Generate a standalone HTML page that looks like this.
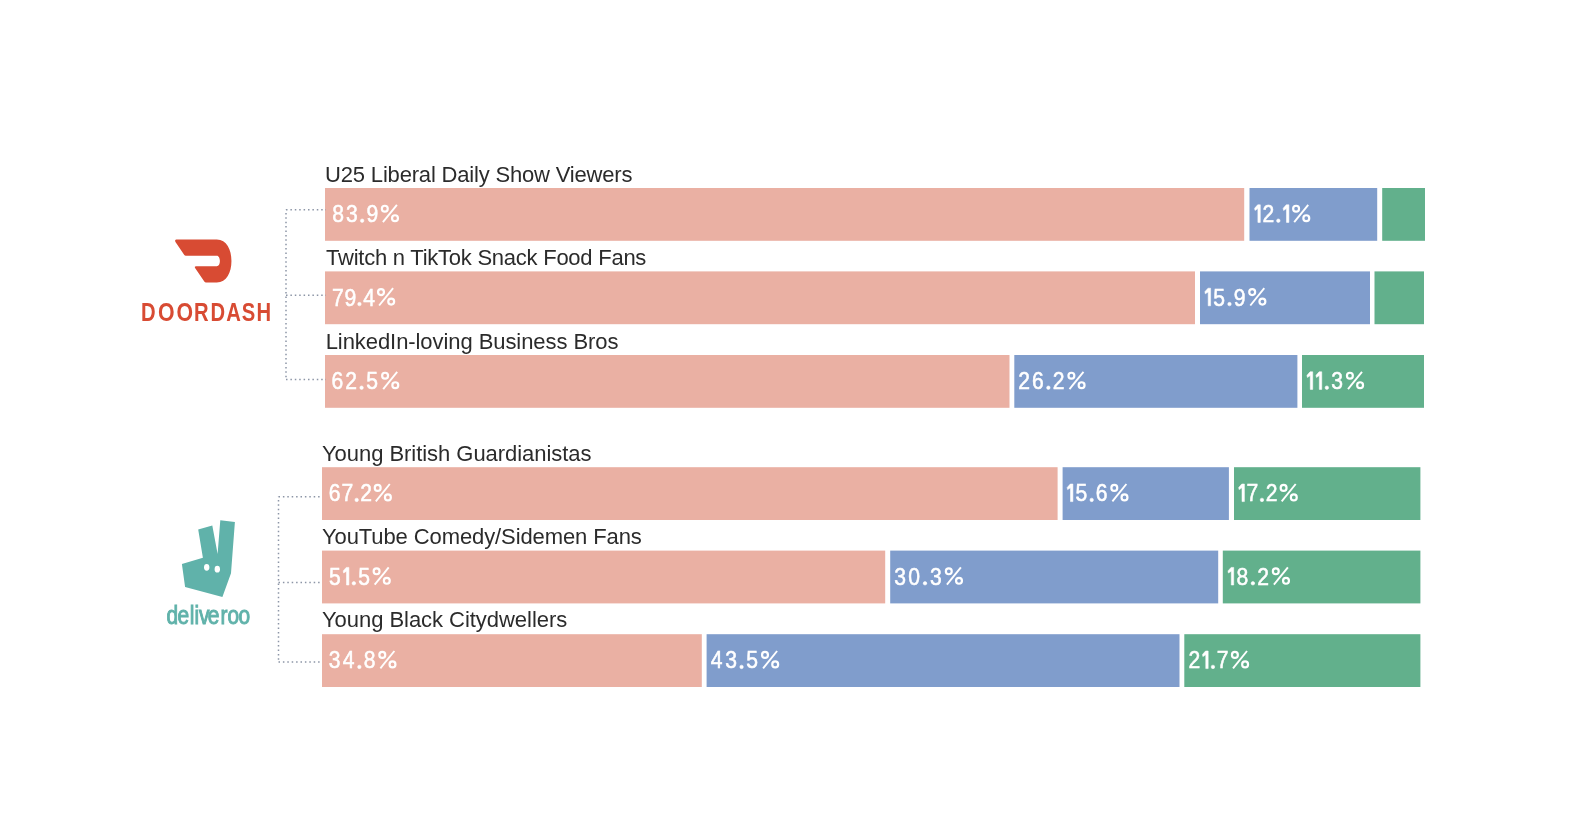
<!DOCTYPE html>
<html><head><meta charset="utf-8"><style>
html,body{margin:0;padding:0;background:#fff;width:1590px;height:826px;overflow:hidden}
svg{display:block;will-change:transform}
.lbl{font-family:"Liberation Sans",sans-serif;font-size:22px;fill:#2b2b2b}
.pct{font-family:"Liberation Sans",sans-serif;font-size:24px;fill:#fff;stroke:#fff;stroke-width:0.55px}
</style></head><body>
<svg width="1590" height="826" viewBox="0 0 1590 826">
<text class="lbl" x="325.10" y="182.2" letter-spacing="-0.181">U25 Liberal Daily Show Viewers</text>
<rect x="325" y="188.0" width="919.2" height="52.8" fill="#EAB0A3"/>
<rect x="1249.5" y="188.0" width="127.7" height="52.8" fill="#809DCC"/>
<rect x="1382.2" y="188.0" width="42.8" height="52.8" fill="#62B08C"/>
<g class="pct"><text transform="translate(332.23,222.20) scale(0.88,1)">8</text><text transform="translate(346.03,222.20) scale(0.88,1)">3</text><circle cx="362.16" cy="220.70" r="1.75"/><text transform="translate(366.42,222.20) scale(0.88,1)">9</text><circle cx="384.80" cy="208.70" r="2.95" fill="none" stroke-width="2.2"/><circle cx="395.00" cy="218.20" r="2.95" fill="none" stroke-width="2.2"/><line x1="382.90" y1="222.10" x2="396.90" y2="204.80" stroke-width="1.9"/></g>
<g class="pct"><path d="M1257.70,204.80L1260.30,204.80L1260.30,222.40L1257.90,222.40L1257.90,208.60L1255.00,210.40L1254.60,208.30Z"/><text transform="translate(1262.55,222.20) scale(0.88,1)">2</text><circle cx="1278.32" cy="220.70" r="1.75"/><path d="M1286.29,204.80L1288.89,204.80L1288.89,222.40L1286.49,222.40L1286.49,208.60L1283.59,210.40L1283.19,208.30Z"/><circle cx="1296.10" cy="208.70" r="2.95" fill="none" stroke-width="2.2"/><circle cx="1306.30" cy="218.20" r="2.95" fill="none" stroke-width="2.2"/><line x1="1294.20" y1="222.10" x2="1308.20" y2="204.80" stroke-width="1.9"/></g>
<text class="lbl" x="326.10" y="265.2" letter-spacing="-0.247">Twitch n TikTok Snack Food Fans</text>
<rect x="325" y="271.4" width="870.0" height="52.8" fill="#EAB0A3"/>
<rect x="1200" y="271.4" width="170.0" height="52.8" fill="#809DCC"/>
<rect x="1374.5" y="271.4" width="49.5" height="52.8" fill="#62B08C"/>
<g class="pct"><text transform="translate(331.94,305.60) scale(0.88,1)">7</text><text transform="translate(344.38,305.60) scale(0.88,1)">9</text><circle cx="359.44" cy="304.10" r="1.75"/><text transform="translate(363.21,305.60) scale(0.88,1)">4</text><circle cx="381.00" cy="292.10" r="2.95" fill="none" stroke-width="2.2"/><circle cx="391.20" cy="301.60" r="2.95" fill="none" stroke-width="2.2"/><line x1="379.10" y1="305.50" x2="393.10" y2="288.20" stroke-width="1.9"/></g>
<g class="pct"><path d="M1208.00,288.20L1210.60,288.20L1210.60,305.80L1208.20,305.80L1208.20,292.00L1205.30,293.80L1204.90,291.70Z"/><text transform="translate(1213.34,305.60) scale(0.88,1)">5</text><circle cx="1229.49" cy="304.10" r="1.75"/><text transform="translate(1233.79,305.60) scale(0.88,1)">9</text><circle cx="1252.20" cy="292.10" r="2.95" fill="none" stroke-width="2.2"/><circle cx="1262.40" cy="301.60" r="2.95" fill="none" stroke-width="2.2"/><line x1="1250.30" y1="305.50" x2="1264.30" y2="288.20" stroke-width="1.9"/></g>
<text class="lbl" x="325.70" y="348.6" letter-spacing="-0.071">LinkedIn-loving Business Bros</text>
<rect x="325" y="355.0" width="684.5" height="52.8" fill="#EAB0A3"/>
<rect x="1014.3" y="355.0" width="283.1" height="52.8" fill="#809DCC"/>
<rect x="1302" y="355.0" width="122.0" height="52.8" fill="#62B08C"/>
<g class="pct"><text transform="translate(331.54,389.20) scale(0.88,1)">6</text><text transform="translate(345.35,389.20) scale(0.88,1)">2</text><circle cx="361.58" cy="387.70" r="1.75"/><text transform="translate(366.33,389.20) scale(0.88,1)">5</text><circle cx="385.10" cy="375.70" r="2.95" fill="none" stroke-width="2.2"/><circle cx="395.30" cy="385.20" r="2.95" fill="none" stroke-width="2.2"/><line x1="383.20" y1="389.10" x2="397.20" y2="371.80" stroke-width="1.9"/></g>
<g class="pct"><text transform="translate(1018.34,389.20) scale(0.88,1)">2</text><text transform="translate(1031.95,389.20) scale(0.88,1)">6</text><circle cx="1048.37" cy="387.70" r="1.75"/><text transform="translate(1052.83,389.20) scale(0.88,1)">2</text><circle cx="1071.40" cy="375.70" r="2.95" fill="none" stroke-width="2.2"/><circle cx="1081.60" cy="385.20" r="2.95" fill="none" stroke-width="2.2"/><line x1="1069.50" y1="389.10" x2="1083.50" y2="371.80" stroke-width="1.9"/></g>
<g class="pct"><path d="M1310.10,371.80L1312.70,371.80L1312.70,389.40L1310.30,389.40L1310.30,375.60L1307.40,377.40L1307.00,375.30Z"/><path d="M1319.14,371.80L1321.74,371.80L1321.74,389.40L1319.34,389.40L1319.34,375.60L1316.44,377.40L1316.04,375.30Z"/><circle cx="1326.84" cy="387.70" r="1.75"/><text transform="translate(1331.36,389.20) scale(0.88,1)">3</text><circle cx="1349.90" cy="375.70" r="2.95" fill="none" stroke-width="2.2"/><circle cx="1360.10" cy="385.20" r="2.95" fill="none" stroke-width="2.2"/><line x1="1348.00" y1="389.10" x2="1362.00" y2="371.80" stroke-width="1.9"/></g>
<text class="lbl" x="322.00" y="461.1" letter-spacing="-0.045">Young British Guardianistas</text>
<rect x="322" y="467.2" width="735.6" height="52.8" fill="#EAB0A3"/>
<rect x="1062.6" y="467.2" width="166.3" height="52.8" fill="#809DCC"/>
<rect x="1234" y="467.2" width="186.4" height="52.8" fill="#62B08C"/>
<g class="pct"><text transform="translate(328.64,501.40) scale(0.88,1)">6</text><text transform="translate(341.44,501.40) scale(0.88,1)">7</text><circle cx="356.67" cy="499.90" r="1.75"/><text transform="translate(360.13,501.40) scale(0.88,1)">2</text><circle cx="377.70" cy="487.90" r="2.95" fill="none" stroke-width="2.2"/><circle cx="387.90" cy="497.40" r="2.95" fill="none" stroke-width="2.2"/><line x1="375.80" y1="501.30" x2="389.80" y2="484.00" stroke-width="1.9"/></g>
<g class="pct"><path d="M1070.30,484.00L1072.90,484.00L1072.90,501.60L1070.50,501.60L1070.50,487.80L1067.60,489.60L1067.20,487.50Z"/><text transform="translate(1075.59,501.40) scale(0.88,1)">5</text><circle cx="1091.69" cy="499.90" r="1.75"/><text transform="translate(1095.84,501.40) scale(0.88,1)">6</text><circle cx="1114.30" cy="487.90" r="2.95" fill="none" stroke-width="2.2"/><circle cx="1124.50" cy="497.40" r="2.95" fill="none" stroke-width="2.2"/><line x1="1112.40" y1="501.30" x2="1126.40" y2="484.00" stroke-width="1.9"/></g>
<g class="pct"><path d="M1241.80,484.00L1244.40,484.00L1244.40,501.60L1242.00,501.60L1242.00,487.80L1239.10,489.60L1238.70,487.50Z"/><text transform="translate(1246.42,501.40) scale(0.88,1)">7</text><circle cx="1261.95" cy="499.90" r="1.75"/><text transform="translate(1265.72,501.40) scale(0.88,1)">2</text><circle cx="1283.60" cy="487.90" r="2.95" fill="none" stroke-width="2.2"/><circle cx="1293.80" cy="497.40" r="2.95" fill="none" stroke-width="2.2"/><line x1="1281.70" y1="501.30" x2="1295.70" y2="484.00" stroke-width="1.9"/></g>
<text class="lbl" x="322.00" y="543.5" letter-spacing="-0.102">YouTube Comedy/Sidemen Fans</text>
<rect x="322" y="550.6" width="563.2" height="52.8" fill="#EAB0A3"/>
<rect x="890.2" y="550.6" width="328.0" height="52.8" fill="#809DCC"/>
<rect x="1222.8" y="550.6" width="197.6" height="52.8" fill="#62B08C"/>
<g class="pct"><text transform="translate(328.93,584.80) scale(0.88,1)">5</text><path d="M346.31,567.40L348.91,567.40L348.91,585.00L346.51,585.00L346.51,571.20L343.61,573.00L343.21,570.90Z"/><circle cx="353.85" cy="583.30" r="1.75"/><text transform="translate(358.22,584.80) scale(0.88,1)">5</text><circle cx="376.60" cy="571.30" r="2.95" fill="none" stroke-width="2.2"/><circle cx="386.80" cy="580.80" r="2.95" fill="none" stroke-width="2.2"/><line x1="374.70" y1="584.70" x2="388.70" y2="567.40" stroke-width="1.9"/></g>
<g class="pct"><text transform="translate(894.13,584.80) scale(0.88,1)">3</text><text transform="translate(908.36,584.80) scale(0.88,1)">0</text><circle cx="925.01" cy="583.30" r="1.75"/><text transform="translate(929.89,584.80) scale(0.88,1)">3</text><circle cx="948.80" cy="571.30" r="2.95" fill="none" stroke-width="2.2"/><circle cx="959.00" cy="580.80" r="2.95" fill="none" stroke-width="2.2"/><line x1="946.90" y1="584.70" x2="960.90" y2="567.40" stroke-width="1.9"/></g>
<g class="pct"><path d="M1231.10,567.40L1233.70,567.40L1233.70,585.00L1231.30,585.00L1231.30,571.20L1228.40,573.00L1228.00,570.90Z"/><text transform="translate(1236.54,584.80) scale(0.88,1)">8</text><circle cx="1252.89" cy="583.30" r="1.75"/><text transform="translate(1257.29,584.80) scale(0.88,1)">2</text><circle cx="1275.80" cy="571.30" r="2.95" fill="none" stroke-width="2.2"/><circle cx="1286.00" cy="580.80" r="2.95" fill="none" stroke-width="2.2"/><line x1="1273.90" y1="584.70" x2="1287.90" y2="567.40" stroke-width="1.9"/></g>
<text class="lbl" x="322.00" y="627.4" letter-spacing="-0.043">Young Black Citydwellers</text>
<rect x="322" y="634.2" width="379.8" height="52.8" fill="#EAB0A3"/>
<rect x="706.6" y="634.2" width="472.9" height="52.8" fill="#809DCC"/>
<rect x="1184.3" y="634.2" width="236.1" height="52.8" fill="#62B08C"/>
<g class="pct"><text transform="translate(328.73,668.40) scale(0.88,1)">3</text><text transform="translate(342.87,668.40) scale(0.88,1)">4</text><circle cx="359.35" cy="666.90" r="1.75"/><text transform="translate(363.77,668.40) scale(0.88,1)">8</text><circle cx="382.30" cy="654.90" r="2.95" fill="none" stroke-width="2.2"/><circle cx="392.50" cy="664.40" r="2.95" fill="none" stroke-width="2.2"/><line x1="380.40" y1="668.30" x2="394.40" y2="651.00" stroke-width="1.9"/></g>
<g class="pct"><text transform="translate(710.81,668.40) scale(0.88,1)">4</text><text transform="translate(725.16,668.40) scale(0.88,1)">3</text><circle cx="741.55" cy="666.90" r="1.75"/><text transform="translate(746.26,668.40) scale(0.88,1)">5</text><circle cx="765.00" cy="654.90" r="2.95" fill="none" stroke-width="2.2"/><circle cx="775.20" cy="664.40" r="2.95" fill="none" stroke-width="2.2"/><line x1="763.10" y1="668.30" x2="777.10" y2="651.00" stroke-width="1.9"/></g>
<g class="pct"><text transform="translate(1188.54,668.40) scale(0.88,1)">2</text><path d="M1205.57,651.00L1208.17,651.00L1208.17,668.60L1205.77,668.60L1205.77,654.80L1202.87,656.60L1202.47,654.50Z"/><circle cx="1212.95" cy="666.90" r="1.75"/><text transform="translate(1216.87,668.40) scale(0.88,1)">7</text><circle cx="1234.90" cy="654.90" r="2.95" fill="none" stroke-width="2.2"/><circle cx="1245.10" cy="664.40" r="2.95" fill="none" stroke-width="2.2"/><line x1="1233.00" y1="668.30" x2="1247.00" y2="651.00" stroke-width="1.9"/></g>
<line x1="286" y1="209.7" x2="286" y2="379.5" stroke="#8c95a6" stroke-width="1.5" stroke-dasharray="1.5 2.9" stroke-dashoffset="1.2"/>
<line x1="286" y1="209.7" x2="326" y2="209.7" stroke="#8c95a6" stroke-width="1.5" stroke-dasharray="1.5 2.9"/>
<line x1="286" y1="295.3" x2="326" y2="295.3" stroke="#8c95a6" stroke-width="1.5" stroke-dasharray="1.5 2.9"/>
<line x1="286" y1="379.5" x2="326" y2="379.5" stroke="#8c95a6" stroke-width="1.5" stroke-dasharray="1.5 2.9"/>
<line x1="278.5" y1="496.7" x2="278.5" y2="662.1" stroke="#8c95a6" stroke-width="1.5" stroke-dasharray="1.5 2.9" stroke-dashoffset="1.2"/>
<line x1="278.5" y1="496.7" x2="322" y2="496.7" stroke="#8c95a6" stroke-width="1.5" stroke-dasharray="1.5 2.9"/>
<line x1="278.5" y1="582.5" x2="322" y2="582.5" stroke="#8c95a6" stroke-width="1.5" stroke-dasharray="1.5 2.9"/>
<line x1="278.5" y1="662.1" x2="322" y2="662.1" stroke="#8c95a6" stroke-width="1.5" stroke-dasharray="1.5 2.9"/>
<path fill="#D84B33" d="M176.3,239.56 L216.8,239.56 C226.6,239.56 231.45,249.5 231.45,261.1 C231.45,272.7 226.6,282.5 216.8,282.5 L206,282.5 Q204.9,282.5 204.3,281.6 L194.9,267.8 Q194.3,266.2 195.9,266.2 L216.8,266.2 C218.7,266.2 219.9,263.8 219.9,261 C219.9,258.2 218.7,255.7 216.8,255.7 L185.8,255.7 Q184.9,255.7 184.3,254.9 L175.3,241.7 Q174.5,239.56 176.3,239.56 Z"/>
<g font-family="Liberation Sans" font-weight="bold" font-size="26.6" fill="#D84B33"><text transform="translate(148.35,321.2) scale(0.76,1)" text-anchor="middle">D</text><text transform="translate(166.20,321.2) scale(0.8,1)" text-anchor="middle">O</text><text transform="translate(184.65,321.2) scale(0.8,1)" text-anchor="middle">O</text><text transform="translate(201.20,321.2) scale(0.76,1)" text-anchor="middle">R</text><text transform="translate(217.80,321.2) scale(0.76,1)" text-anchor="middle">D</text><text transform="translate(233.45,321.2) scale(0.76,1)" text-anchor="middle">A</text><text transform="translate(248.45,321.2) scale(0.76,1)" text-anchor="middle">S</text><text transform="translate(263.90,321.2) scale(0.76,1)" text-anchor="middle">H</text></g>
<path fill="#60B2AA" fill-rule="evenodd" d="M220.3,520.2 L234.9,522 L231,573.2 L222.4,597.1 L185.1,587 L181.9,564.1 L202.9,557.7 L198.2,529.5 L212.3,525.5 L217.6,554 Z M209.4,567.3 A2.7,3.4 0 1 0 204,567.3 A2.7,3.4 0 1 0 209.4,567.3 Z M220,569.2 A2.7,3.4 0 1 0 214.6,569.2 A2.7,3.4 0 1 0 220,569.2 Z"/>
<g font-family="Liberation Sans" font-weight="normal" font-size="25.5" fill="#60B2AA" stroke="#60B2AA" stroke-width="1.0"><text transform="translate(172.20,623.7) scale(0.82,1)" text-anchor="middle">d</text><text transform="translate(183.35,623.7) scale(0.82,1)" text-anchor="middle">e</text><text transform="translate(192.00,623.7) scale(0.82,1)" text-anchor="middle">l</text><text transform="translate(196.75,623.7) scale(0.82,1)" text-anchor="middle">i</text><text transform="translate(204.25,623.7) scale(0.82,1)" text-anchor="middle">v</text><text transform="translate(213.65,623.7) scale(0.82,1)" text-anchor="middle">e</text><text transform="translate(224.00,623.7) scale(0.82,1)" text-anchor="middle">r</text><text transform="translate(233.25,623.7) scale(0.82,1)" text-anchor="middle">o</text><text transform="translate(244.35,623.7) scale(0.82,1)" text-anchor="middle">o</text></g>
</svg></body></html>
